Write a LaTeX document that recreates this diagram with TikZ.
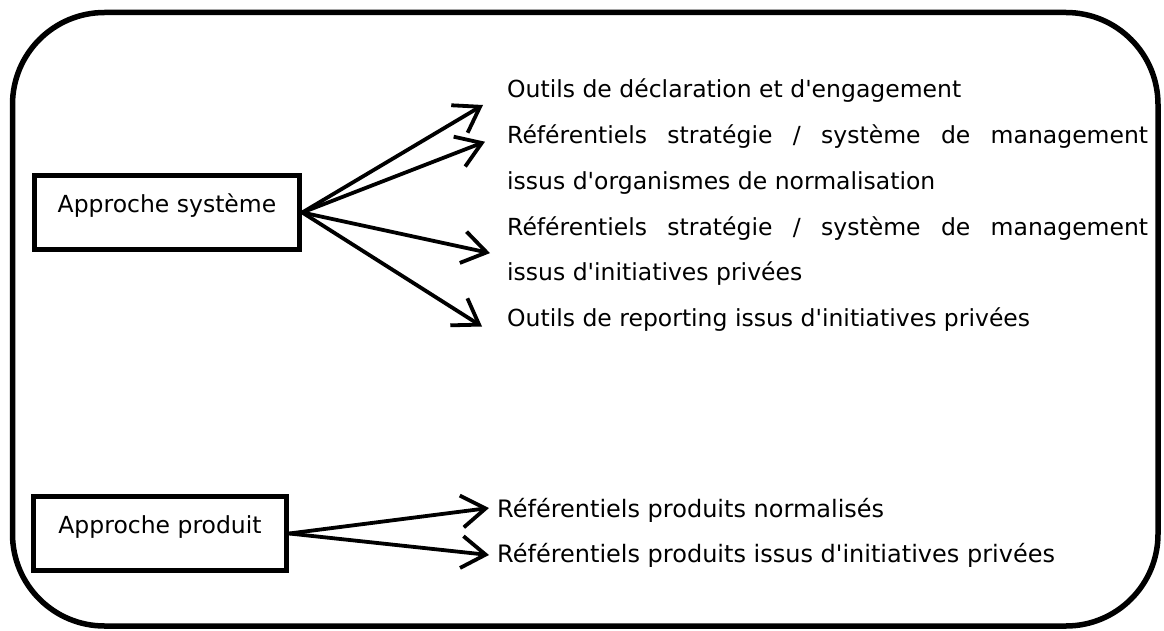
\documentclass[tikz,border=0pt]{standalone}
\usepackage{fontspec}
\newfontfamily\schemafont{DejaVu Sans}
\usetikzlibrary{arrows.meta}

\tikzset{
  approche/.style={draw, line width=5.5pt, minimum width=265pt, minimum height=74pt,
    inner sep=0pt, text height=0.8em, text depth=0.8em,
    font=\schemafont\fontsize{23.5}{28}\selectfont},
  outil/.style={anchor=base west, inner sep=0pt,
    font=\schemafont\fontsize{23.5}{45.7}\selectfont},
  fleche/.style={line width=3.8pt, -{Straight Barb[length=24pt,width=32pt]}}
}

\begin{document}
\begin{tikzpicture}[x=1pt,y=-1pt]
\useasboundingbox (0,0) rectangle (1164,631);
\draw[line width=5.5pt, rounded corners=92pt] (12.5,12.5) rectangle (1158,626);

% approche systeme
\node[approche] (systeme) at (167,212.5) {Approche système};
\node[outil] (decl) at (507,98) {Outils de déclaration et d'engagement};
\node[outil, text width=641pt, align=justify] (refnorm) at (507,143.7)
  {Référentiels stratégie / système de management\linebreak issus d'organismes de normalisation};
\node[outil, text width=641pt, align=justify] (refpriv) at (507,235.1)
  {Référentiels stratégie / système de management\linebreak issus d'initiatives privées};
\node[outil] (report) at (507,326.5) {Outils de reporting issus d'initiatives privées};

\draw[fleche] (systeme.east) -- ([shift={(-24,7)}]decl.base west);
\draw[fleche] (systeme.east) -- ([shift={(-22,-2)}]refnorm.base west);
\draw[fleche] (systeme.east) -- ([shift={(-17,18)}]refpriv.base west);
\draw[fleche] (systeme.east) -- ([shift={(-25,0)}]report.base west);

% approche produit
\node[approche, minimum width=253pt] (produit) at (160,533.5) {Approche produit};
\node[outil, font=\schemafont\fontsize{24}{45.7}\selectfont] (prodnorm) at (497,517) {Référentiels produits normalisés};
\node[outil, font=\schemafont\fontsize{24}{45.7}\selectfont] (prodpriv) at (497,562) {Référentiels produits issus d'initiatives privées};

\draw[fleche] (produit.east) -- ([shift={(-8,-9)}]prodnorm.base west);
\draw[fleche] (produit.east) -- ([shift={(-8,-7)}]prodpriv.base west);
\end{tikzpicture}
\end{document}
